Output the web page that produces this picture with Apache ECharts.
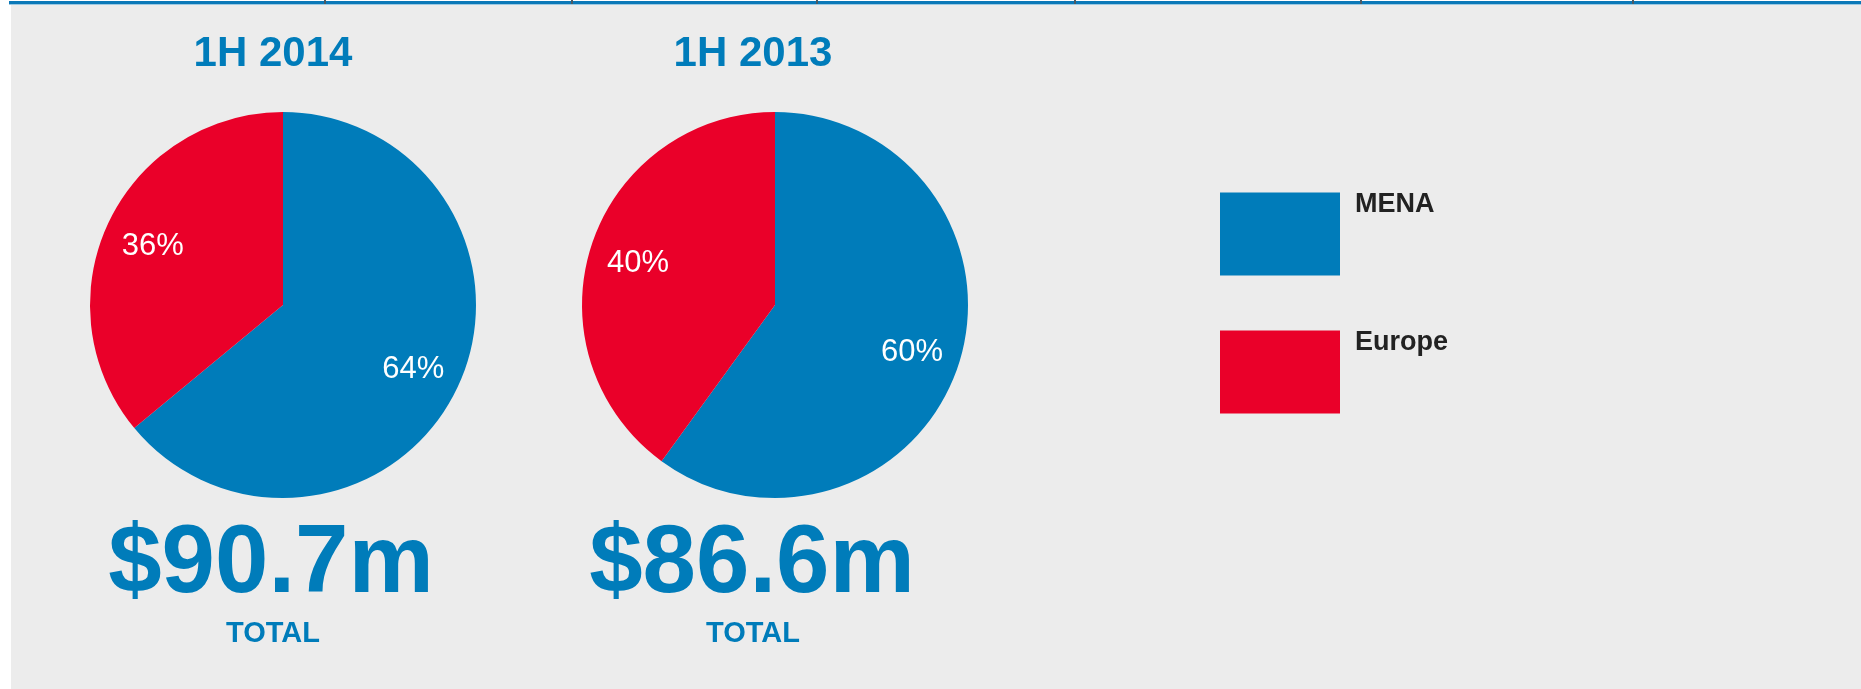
<!DOCTYPE html>
<html>
<head>
<meta charset="utf-8">
<title>Revenue split by region</title>
<script src="https://cdn.jsdelivr.net/npm/echarts@6/dist/echarts.min.js"></script>
<style>
  html, body { margin: 0; padding: 0; background: #ffffff; }
  #chart { width: 1861px; height: 689px; }
</style>
</head>
<body>
<div id="chart"></div>
<script>
// Regions shown in each pie
const regions = ['MENA', 'Europe'];
// Share of revenue (%) per region
const share2014 = [64, 36];
const share2013 = [60, 40];
// Period headings and totals
const periods = ['1H 2014', '1H 2013'];
const totals = ['$90.7m', '$86.6m'];
const totalCaption = 'TOTAL';

const BLUE = '#007cba';
const RED = '#ea0029';
const BG = '#ececec';
const FONT = '"Liberation Sans", Arial, sans-serif';

const pieRadius = 193;
const pieCenters = [[283, 305], [775, 305]];
const headingX = [273, 753];
const totalX = [271, 752];

function toData(values) {
  return regions.map((name, i) => ({
    name: name,
    value: values[i],
    itemStyle: { color: i === 0 ? BLUE : RED }
  }));
}

// Filled pie without labels
function pieSeries(values, center) {
  return {
    type: 'pie',
    center: center,
    radius: [0, pieRadius],
    startAngle: 90,
    clockwise: true,
    silent: true,
    label: { show: false },
    labelLine: { show: false },
    emphasis: { disabled: true },
    data: toData(values)
  };
}

// Transparent ring that only carries the percentage labels,
// so they sit at about three quarters of the radius
function labelSeries(values, center) {
  return {
    type: 'pie',
    center: center,
    radius: [Math.round(pieRadius * 0.46), pieRadius],
    startAngle: 90,
    clockwise: true,
    silent: true,
    emphasis: { disabled: true },
    itemStyle: { color: 'rgba(0,0,0,0)' },
    labelLine: { show: false },
    label: {
      show: true,
      position: 'inside',
      formatter: '{c}%',
      offset: [0, 3],
      color: '#ffffff',
      fontFamily: FONT,
      fontSize: 31,
      fontWeight: 'normal'
    },
    data: regions.map((name, i) => ({ name: name, value: values[i] }))
  };
}

// One legend per region; the name is lifted to the top edge of its swatch
function legendFor(name, top) {
  return {
    data: [name],
    left: 1220,
    top: top,
    padding: 0,
    orient: 'vertical',
    icon: 'rect',
    itemWidth: 120,
    itemHeight: 83,
    selectedMode: false,
    formatter: n => n + '\n ',
    textStyle: {
      color: '#222222',
      fontFamily: FONT,
      fontWeight: 'bold',
      fontSize: 27,
      lineHeight: 59,
      padding: [0, 0, 0, 10]
    }
  };
}

const texts = [];
periods.forEach((p, i) => {
  texts.push({
    type: 'text', x: headingX[i], y: 54,
    style: { text: p, fill: BLUE, font: 'bold 42px ' + FONT, textAlign: 'center', textVerticalAlign: 'middle' }
  });
  texts.push({
    type: 'text', x: totalX[i], y: 566,
    style: { text: totals[i], fill: BLUE, font: 'bold 96px ' + FONT, textAlign: 'center', textVerticalAlign: 'middle' }
  });
  texts.push({
    type: 'text', x: headingX[i], y: 634,
    style: { text: totalCaption, fill: BLUE, font: 'bold 29px ' + FONT, textAlign: 'center', textVerticalAlign: 'middle' }
  });
});

// Page frame: white margin on the left, blue rule along the top with small separators
const frame = [
  { type: 'rect', shape: { x: 0, y: 0, width: 11, height: 689 }, style: { fill: '#ffffff' }, z: 0 },
  { type: 'rect', shape: { x: 0, y: 0, width: 1861, height: 1 }, style: { fill: '#ffffff' }, z: 0 },
  { type: 'rect', shape: { x: 9, y: 1, width: 1852, height: 3 }, style: { fill: '#0a78b8' }, z: 1 },
  { type: 'rect', shape: { x: 9, y: 4, width: 1852, height: 1 }, style: { fill: '#9cc9e3' }, z: 1 }
];
[324, 571, 816, 1074, 1360, 1632].forEach(x => {
  frame.push({ type: 'rect', shape: { x: x, y: 0, width: 2, height: 4 }, style: { fill: '#4d5a63' }, z: 2 });
});

const chart = echarts.init(document.getElementById('chart'), null, { renderer: 'canvas' });
chart.setOption({
  animation: false,
  backgroundColor: BG,
  tooltip: { show: false },
  legend: [legendFor('MENA', 175), legendFor('Europe', 313)],
  graphic: { elements: frame.concat(texts) },
  series: [
    pieSeries(share2014, pieCenters[0]),
    pieSeries(share2013, pieCenters[1]),
    labelSeries(share2014, pieCenters[0]),
    labelSeries(share2013, pieCenters[1])
  ]
});
</script>
</body>
</html>
